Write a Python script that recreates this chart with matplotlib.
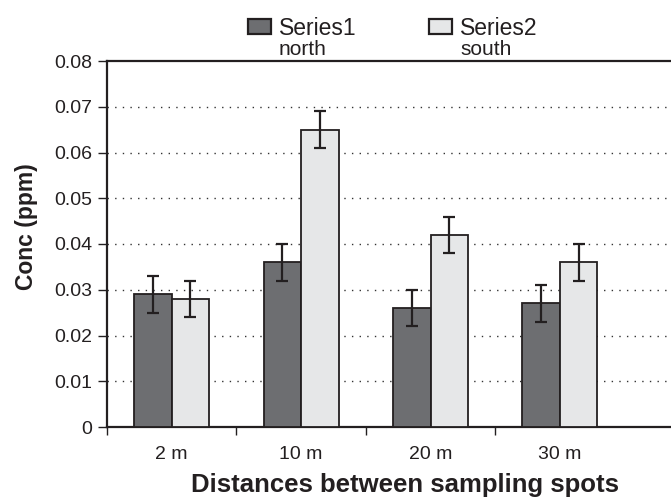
import matplotlib
matplotlib.use("Agg")
import matplotlib.pyplot as plt
from matplotlib.patches import Rectangle
import numpy as np

plt.rcParams['font.family'] = ['Liberation Sans', 'DejaVu Sans']

categories = ["2 m", "10 m", "20 m", "30 m"]
series1 = [0.029, 0.036, 0.026, 0.027]
series2 = [0.028, 0.065, 0.042, 0.036]
err1 = [0.004, 0.004, 0.004, 0.004]
err2 = [0.004, 0.004, 0.004, 0.004]
yticks = [0, 0.01, 0.02, 0.03, 0.04, 0.05, 0.06, 0.07, 0.08]
ytick_labels = ["0", "0.01", "0.02", "0.03", "0.04", "0.05", "0.06", "0.07", "0.08"]

W, H = 671, 499
fig = plt.figure(figsize=(W / 100, H / 100), dpi=100)
ax = fig.add_axes([107 / W, 1 - 427 / H, 1 - 107 / W, (427 - 61) / H])

dark = "#6d6e71"
light = "#e6e7e8"
edge = "#231f20"
x = np.arange(len(categories))
bw = 0.29

ax.bar(x - bw / 2, series1, bw, color=dark, edgecolor=edge, linewidth=1.3, zorder=3)
ax.bar(x + bw / 2, series2, bw, color=light, edgecolor=edge, linewidth=1.3, zorder=3)
ax.errorbar(x - bw / 2, series1, yerr=err1, fmt='none', ecolor=edge, elinewidth=1.6,
            capsize=4.3, capthick=1.6, zorder=4)
ax.errorbar(x + bw / 2, series2, yerr=err2, fmt='none', ecolor=edge, elinewidth=1.6,
            capsize=4.3, capthick=1.6, zorder=4)

ax.set_xlim(-0.5, -0.5 + (W - 107) / 129.4)
ax.set_ylim(0, 0.08)
for yv in yticks[1:-1]:
    ax.axhline(yv, color="#333333", linewidth=1.0, linestyle=(0, (1, 4.5)), zorder=1)

ax.set_yticks(yticks)
ax.set_yticklabels(ytick_labels, fontsize=14, color="#231f20")
ax.set_xticks(np.concatenate([[-0.5], x[:3] + 0.5]))
ax.set_xticklabels([])
ax.set_xticks(x, minor=True)
ax.set_xticklabels(categories, minor=True, fontsize=14, color="#231f20")
ax.tick_params(axis='x', which='minor', length=0, pad=14)
ax.tick_params(axis='x', which='major', length=6, width=1, color=edge, direction='out')
ax.tick_params(axis='y', length=6.5, width=1, color=edge, direction='out', pad=4)

for s in ['left', 'bottom', 'top']:
    ax.spines[s].set_linewidth(1.6)
    ax.spines[s].set_color(edge)
ax.spines['right'].set_visible(False)

fig.text(27 / W, 1 - 227 / H, "Conc (ppm)", rotation=90, fontsize=16.5, fontweight='bold',
         ha='center', va='center', color="#231f20")
fig.text((192 + 618) / 2 / W, 7 / H, "Distances between sampling spots", fontsize=18.5,
         fontweight='bold', ha='center', va='baseline', color="#231f20")

# legend
for (px, label, sub, col) in [(248, "Series1", "north", dark), (429, "Series2", "south", light)]:
    fig.patches.append(Rectangle((px / W, 1 - 34 / H), 23 / W, 15 / H, transform=fig.transFigure,
                                 facecolor=col, edgecolor=edge, linewidth=1.6))
    fig.text((px + 31) / W, 1 - 35 / H, label, fontsize=16.5, ha='left', va='baseline', color="#231f20")
    fig.text((px + 31) / W, 1 - 55 / H, sub, fontsize=15, ha='left', va='baseline', color="#231f20")

fig.savefig("out.png", dpi=100)
